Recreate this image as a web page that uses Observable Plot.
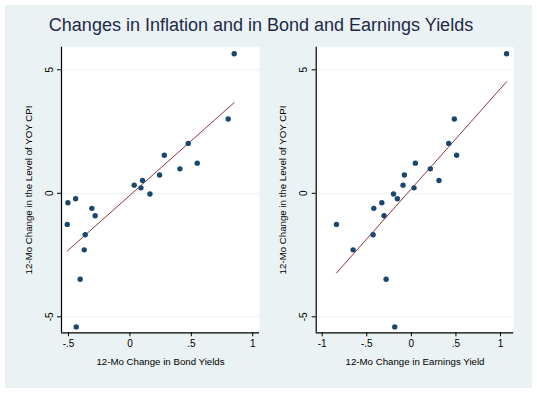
<!DOCTYPE html>
<html>
<head>
<meta charset="utf-8">
<script src="https://cdn.jsdelivr.net/npm/d3@7"></script>
<script src="https://cdn.jsdelivr.net/npm/@observablehq/plot@0.6"></script>
<style>
  html, body { margin: 0; padding: 0; background: white; }
  #wrap { position: relative; width: 537px; height: 393px; background: white; overflow: hidden; font-family: "Liberation Sans", Arial, sans-serif; }
  #bg { position: absolute; left: 5px; top: 5px; width: 527px; height: 383px; background: #eaf2f3; }
  #title { position: absolute; left: 0; top: 16px; width: 522px; text-align: center; font-size: 18px; line-height: 18px; color: #1e2a4a; white-space: nowrap; z-index: 5; }
  #p1 { position: absolute; left: 0; top: 0; }
  #p2 { position: absolute; left: 268px; top: 0; }
</style>
</head>
<body>
<div id="wrap">
  <div id="bg"></div>
  <div id="p1"></div>
  <div id="p2"></div>
  <div id="title">Changes in Inflation and in Bond and Earnings Yields</div>
</div>
<script>
// Data: 12-month changes
const cpiChange = [5.65, 3.01, 2.02, 1.54, 1.22, 0.99, 0.74, 0.52, 0.33, 0.22, -0.03, -0.22, -0.38, -0.61, -0.91, -1.26, -1.68, -2.29, -3.48, -5.41];
const bondYieldChange = [0.849, 0.80, 0.475, 0.28, 0.548, 0.407, 0.242, 0.103, 0.035, 0.09, 0.163, -0.442, -0.505, -0.31, -0.283, -0.51, -0.364, -0.372, -0.405, -0.437];
const earningsYieldChange = [1.068, 0.482, 0.419, 0.508, 0.045, 0.213, -0.078, 0.31, -0.093, 0.03, -0.2, -0.157, -0.331, -0.421, -0.306, -0.84, -0.429, -0.653, -0.283, -0.186];

const yTicks = [-5, 0, 5];
const bondTicks = [-0.5, 0, 0.5, 1];
const earnTicks = [-1, -0.5, 0, 0.5, 1];

const yLabel = "12-Mo Change in the Level of YOY CPI";
const bondLabel = "12-Mo Change in Bond Yields";
const earnLabel = "12-Mo Change in Earnings Yield";

const yDomain = [-5.648, 5.915];
const bondDomain = [-0.557, 1.055];
const earnDomain = [-1.067, 1.149];

const NAVY = "#1a476f", MAROON = "#90353b", GRID = "#eaf2f3";
const fmt = d => d === 0 ? "0" : String(d).replace(/^(-?)0\./, "$1.");

function panel(xs, xDomain, xTicks, xLabel, width, mLeft, mRight) {
  const data = xs.map((x, i) => ({x, y: cpiChange[i]}));
  return Plot.plot({
    width, height: 393,
    marginLeft: mLeft, marginRight: mRight, marginTop: 46.7, marginBottom: 60.7,
    style: {background: "transparent", fontFamily: "Liberation Sans, Arial, sans-serif", fontSize: "9.7px", color: "#000"},
    x: {domain: xDomain},
    y: {domain: yDomain},
    marks: [
      Plot.frame({fill: "white", stroke: null}),
      Plot.gridY({ticks: yTicks, stroke: GRID, strokeOpacity: 1, strokeWidth: 1}),
      Plot.axisY({ticks: yTicks, tickSize: 4, tickFormat: () => "", label: null}),
      Plot.text(yTicks, {y: d => d, text: fmt, frameAnchor: "left", dx: -12, rotate: -90, textAnchor: "middle", lineAnchor: "middle", fontSize: 10, fill: "#000"}),
      Plot.axisX({ticks: xTicks, tickSize: 4, tickPadding: 3, tickFormat: fmt, label: null, fill: "#000", fontSize: 10}),
      Plot.ruleX([xDomain[0]], {stroke: "#000", strokeWidth: 1.2}),
      Plot.ruleY([yDomain[0]], {stroke: "#000", strokeWidth: 1.2}),
      Plot.linearRegressionY(data, {x: "x", y: "y", ci: 0, stroke: MAROON, strokeWidth: 1}),
      Plot.dot(data, {x: "x", y: "y", r: 2.7, fill: NAVY, stroke: null}),
      Plot.text([yLabel], {text: d => d, frameAnchor: "left", dx: -33, rotate: -90, textAnchor: "middle", lineAnchor: "middle", fontSize: 9.7, fill: "#000"}),
      Plot.text([xLabel], {text: d => d, frameAnchor: "bottom", dy: 29, textAnchor: "middle", lineAnchor: "middle", fontSize: 9.7, fill: "#000"})
    ]
  });
}

document.getElementById("p1").appendChild(panel(bondYieldChange, bondDomain, bondTicks, bondLabel, 268, 61, 9));
document.getElementById("p2").appendChild(panel(earningsYieldChange, earnDomain, earnTicks, earnLabel, 269, 47.7, 23.7));
</script>
</body>
</html>
